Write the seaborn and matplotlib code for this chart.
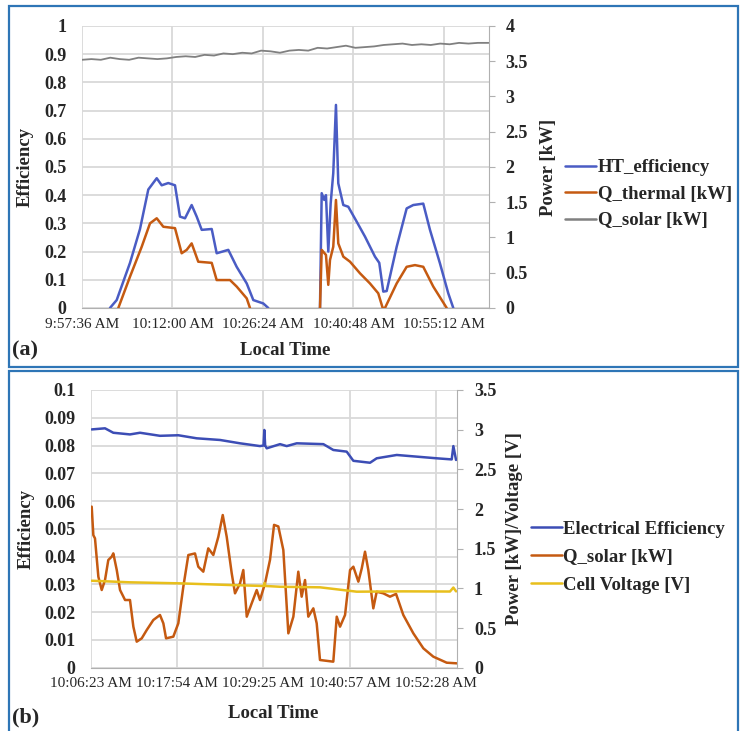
import numpy as np
import pandas as pd
import seaborn as sns
import matplotlib.pyplot as plt
from matplotlib.lines import Line2D
from matplotlib.patches import Rectangle
from matplotlib.ticker import FuncFormatter
from datetime import datetime

sns.set_style("white")
plt.rcParams['font.family'] = ['Liberation Serif', 'DejaVu Serif']

nan = np.nan

# ---------------- panel (a) ----------------
ticks_a = ['9:57:36 AM', '10:12:00 AM', '10:26:24 AM', '10:40:48 AM', '10:55:12 AM']
xmax_a = 64.76  # minutes after first tick

ht_time = [4.45, 5.52, 7.64, 9.23, 10.55, 11.89, 12.68, 13.73, 14.80, 15.59, 16.39, 17.45,
           18.25, 19.05, 20.64, 21.43, 23.28, 24.61, 26.21, 27.26, 28.85, 29.64, nan,
           37.87, 38.14, 38.55, 38.82, 39.19, 39.57, 39.98, 40.41, 40.78, 41.58, 42.37,
           43.71, 45.03, 46.62, 47.30, 47.94, 48.48, 50.07, 51.66, 52.71, 54.30, 55.37,
           56.96, 58.28, 59.08]
ht_eff = [0, 0.028, 0.16, 0.28, 0.42, 0.46, 0.435, 0.443, 0.435, 0.324, 0.318, 0.365,
          0.324, 0.277, 0.28, 0.194, 0.206, 0.146, 0.087, 0.028, 0.016, 0, nan,
          0, 0.407, 0.383, 0.40, 0.20, 0.371, 0.478, 0.72, 0.442, 0.365, 0.359,
          0.306, 0.253, 0.182, 0.16, 0.058, 0.06, 0.217, 0.353, 0.365, 0.37, 0.277,
          0.158, 0.052, 0]

qt_time = [5.78, 7.64, 9.50, 10.82, 11.89, 12.94, 14.80, 15.86, 16.66, 17.45, 18.50, 20.64,
           21.43, 23.55, 24.61, 26.21, 26.73, nan,
           37.87, 38.14, 38.82, 39.19, 39.46, 39.98, 40.41, 40.78, 41.58, 42.65, 44.23,
           45.82, 47.14, 47.84, 48.21, 50.07, 51.66, 52.98, 54.30, 55.89, 58.03]
qt_kw = [0, 0.444, 0.868, 1.20, 1.272, 1.152, 1.132, 0.776, 0.824, 0.916, 0.656, 0.64,
         0.396, 0.396, 0.304, 0.136, 0, nan,
         0, 0.824, 0.752, 0.328, 0.68, 0.868, 1.532, 0.916, 0.728, 0.656, 0.492,
         0.348, 0.208, 0, 0, 0.348, 0.584, 0.608, 0.584, 0.304, 0]

qs_a_time = [0, 1.5, 3, 4.5, 6, 7.5, 9, 10.5, 12, 13.5, 15, 16.5, 18, 19.5, 21, 22.5, 24,
             25.5, 27, 28.5, 30, 31.5, 33, 34.5, 36, 37.5, 39, 40.5, 42, 43.5, 45, 46.5,
             48, 49.5, 51, 52.5, 54, 55.5, 57, 58.5, 60, 61.5, 63, 64.7]
qs_a_kw = [3.52, 3.53, 3.52, 3.55, 3.53, 3.52, 3.55, 3.54, 3.53, 3.54, 3.56, 3.57, 3.56,
           3.59, 3.58, 3.61, 3.60, 3.62, 3.61, 3.65, 3.64, 3.62, 3.65, 3.66, 3.65, 3.69,
           3.68, 3.70, 3.72, 3.69, 3.70, 3.71, 3.73, 3.74, 3.75, 3.73, 3.74, 3.73, 3.75,
           3.74, 3.76, 3.75, 3.76, 3.76]

# ---------------- panel (b) ----------------
ticks_b = ['10:06:23 AM', '10:17:54 AM', '10:29:25 AM', '10:40:57 AM', '10:52:28 AM']
xmax_b = 48.97

ee_time = [0.09, 1.87, 2.98, 5.21, 6.55, 9.22, 11.67, 14.13, 17.25, 19.92, 22.59, 23.06,
           23.17, 23.28, 23.49, 25.27, 26.16, 27.50, 31.06, 32.39, 34.18, 35.07, 37.30,
           38.19, 40.87, 43.54, 46.22, 48.22, 48.44, 48.80]
ee_eff = [0.0858, 0.0862, 0.0846, 0.0840, 0.0846, 0.0835, 0.0837, 0.0826, 0.0820, 0.0808,
          0.0798, 0.0800, 0.0856, 0.0800, 0.0790, 0.0805, 0.0798, 0.0808, 0.0805, 0.0784,
          0.0778, 0.0745, 0.0738, 0.0754, 0.0766, 0.0760, 0.0754, 0.0750, 0.0798, 0.0748]

qs_b_time = [0.09, 0.31, 0.53, 0.98, 1.43, 1.87, 2.31, 2.77, 2.98, 3.44, 3.88, 4.55, 5.21,
             5.66, 6.11, 6.78, 7.45, 8.33, 9.22, 9.67, 10.03, 11.00, 11.67, 12.34, 13.01,
             13.90, 14.34, 15.01, 15.68, 16.35, 17.02, 17.61, 18.14, 18.81, 19.25, 19.92,
             20.36, 20.82, 21.48, 22.15, 22.59, 23.26, 23.93, 24.47, 25.04, 25.71, 26.38,
             27.05, 27.71, 28.16, 28.61, 29.05, 29.72, 30.17, 30.61, 32.39, 32.85, 33.29,
             33.96, 34.63, 35.07, 35.74, 36.19, 36.63, 37.07, 37.74, 38.19, 39.08, 39.97,
             40.78, 41.75, 43.09, 44.43, 45.76, 47.55, 48.89]
qs_b_kw = [2.03, 1.67, 1.63, 1.147, 0.979, 1.105, 1.357, 1.40, 1.441, 1.231, 0.979, 0.853,
           0.853, 0.517, 0.328, 0.37, 0.475, 0.601, 0.664, 0.559, 0.37, 0.391, 0.559, 1.02,
           1.42, 1.44, 1.273, 1.21, 1.504, 1.42, 1.65, 1.924, 1.65, 1.189, 0.937, 1.063,
           1.231, 0.643, 0.811, 0.979, 0.853, 1.063, 1.36, 1.80, 1.78, 1.483, 0.433,
           0.643, 1.21, 0.895, 1.105, 0.643, 0.748, 0.559, 0.097, 0.076, 0.643, 0.517,
           0.664, 1.231, 1.273, 1.084, 1.25, 1.462, 1.231, 0.748, 0.958, 0.937, 0.895,
           0.93, 0.664, 0.433, 0.244, 0.139, 0.063, 0.055]

cv_time = [0.09, 5.21, 11.90, 18.58, 23.06, 23.20, 23.33, 25.27, 30.61, 32.85, 35.52, 41.75,
           47.99, 48.44, 48.80]
cv_volt = [1.096, 1.076, 1.063, 1.042, 1.03, 1.07, 1.03, 1.02, 1.013, 0.988, 0.958, 0.962,
           0.96, 1.01, 0.962]

C_BLUE_A = '#4a5cc4'
C_BLUE_B = '#3c4db5'
C_ORANGE = '#c55a11'
C_GRAY = '#808080'
C_YELLOW = '#e8bf1c'
FRAME = '#2e75b6'
GRID = '#d9d9d9'


def to_df(t, v):
    # split into segments at NaN breaks
    df = pd.DataFrame({'t': t, 'v': v})
    df['seg'] = df['v'].isna().cumsum()
    return df.dropna()


def tick_minutes(labels):
    t0 = datetime.strptime(labels[0], '%I:%M:%S %p')
    return [(datetime.strptime(s, '%I:%M:%S %p') - t0).total_seconds() / 60 for s in labels]


def draw(ax, t, v, color, lw=1.8):
    sns.lineplot(data=to_df(t, v), x='t', y='v', units='seg', estimator=None, sort=False,
                 color=color, lw=lw, ax=ax)


def style(ax, ax2, labels, xmax, ymax, ystep, ymax2, ystep2, fs_y):
    ax.set_xlim(0, xmax)
    ax.set_xticks(tick_minutes(labels))
    ax.set_xticklabels(labels, fontsize=11)
    ax.set_ylim(0, ymax)
    ax.set_yticks(np.arange(0, ymax + ystep / 2, ystep))
    ax2.set_ylim(0, ymax2)
    ax2.set_yticks(np.arange(0, ymax2 + ystep2 / 2, ystep2))
    fmt = FuncFormatter(lambda val, pos: f'{val:g}')
    ax.yaxis.set_major_formatter(fmt)
    ax2.yaxis.set_major_formatter(fmt)
    ax.grid(True, color=GRID, lw=1.3)
    ax.set_axisbelow(True)
    for s in ['top', 'left', 'right']:
        ax.spines[s].set_visible(False)
    for s in ['top', 'left', 'bottom']:
        ax2.spines[s].set_visible(False)
    ax.spines['bottom'].set_color('#b0b0b0')
    ax2.spines['right'].set_color('#b0b0b0')
    ax.tick_params(axis='y', length=0, pad=11, labelsize=fs_y)
    ax.tick_params(axis='x', length=0, pad=7)
    ax2.tick_params(axis='y', length=4, color='#b0b0b0', pad=8, labelsize=fs_y)
    for lab in ax.get_yticklabels() + ax2.get_yticklabels():
        lab.set_fontweight('bold')
    ax.set_xlabel('Local Time', fontsize=13.5, fontweight='bold')
    ax.set_ylabel('Efficiency', fontsize=13.5, fontweight='bold')


fig = plt.figure(figsize=(7.4, 7.31), dpi=100)

# panel frames
fig.patches.append(Rectangle((0.012, 0.498), 0.985, 0.494, transform=fig.transFigure,
                             fill=False, ec=FRAME, lw=1.6))
fig.patches.append(Rectangle((0.012, -0.02), 0.985, 0.5125, transform=fig.transFigure,
                             fill=False, ec=FRAME, lw=1.6))

# ---- (a)
ax = fig.add_axes([0.1108, 0.5787, 0.55, 0.3858])
ax2 = ax.twinx()
draw(ax, ht_time, ht_eff, C_BLUE_A)
draw(ax2, qt_time, qt_kw, C_ORANGE)
draw(ax2, qs_a_time, qs_a_kw, C_GRAY, lw=1.3)
style(ax, ax2, ticks_a, xmax_a, 1, 0.1, 4, 0.5, 13)
ax2.set_ylabel('Power [kW]', fontsize=13.5, fontweight='bold')
ax.xaxis.set_label_coords(0.50, -0.122)
ax.yaxis.set_label_coords(-0.118, 0.5)
ax2.yaxis.set_label_coords(1.125, 0.5)
handles = [Line2D([], [], color=C_BLUE_A, lw=1.8), Line2D([], [], color=C_ORANGE, lw=1.8),
           Line2D([], [], color=C_GRAY, lw=1.8)]
fig.legend(handles, ['HT_efficiency', 'Q_thermal [kW]', 'Q_solar [kW]'],
           loc='center left', bbox_to_anchor=(0.764, 0.7346), frameon=False,
           prop={'weight': 'bold', 'size': 13.5}, handlelength=1.65, handletextpad=0.1,
           labelspacing=0.5, borderpad=0, borderaxespad=0)
fig.text(0.016, 0.521, '(a)', fontsize=16, fontweight='bold', va='center')

# ---- (b)
bx = fig.add_axes([0.123, 0.0866, 0.495, 0.3799])
bx2 = bx.twinx()
draw(bx, ee_time, ee_eff, C_BLUE_B)
draw(bx2, qs_b_time, qs_b_kw, C_ORANGE)
draw(bx2, cv_time, cv_volt, C_YELLOW)
style(bx, bx2, ticks_b, xmax_b, 0.1, 0.01, 3.5, 0.5, 13)
bx2.set_ylabel('Power [kW]/Voltage [V]', fontsize=13.5, fontweight='bold')
bx.xaxis.set_label_coords(0.498, -0.134)
bx.yaxis.set_label_coords(-0.153, 0.5)
bx2.yaxis.set_label_coords(1.133, 0.5)
handles = [Line2D([], [], color=C_BLUE_B, lw=1.8), Line2D([], [], color=C_ORANGE, lw=1.8),
           Line2D([], [], color=C_YELLOW, lw=1.8)]
fig.legend(handles, ['Electrical Efficiency', 'Q_solar [kW]', 'Cell Voltage [V]'],
           loc='center left', bbox_to_anchor=(0.717, 0.238), frameon=False,
           prop={'weight': 'bold', 'size': 13.5}, handlelength=1.65, handletextpad=0.1,
           labelspacing=0.58, borderpad=0, borderaxespad=0)
fig.text(0.016, 0.018, '(b)', fontsize=16, fontweight='bold', va='center')

fig.savefig('out.png', dpi=100)
